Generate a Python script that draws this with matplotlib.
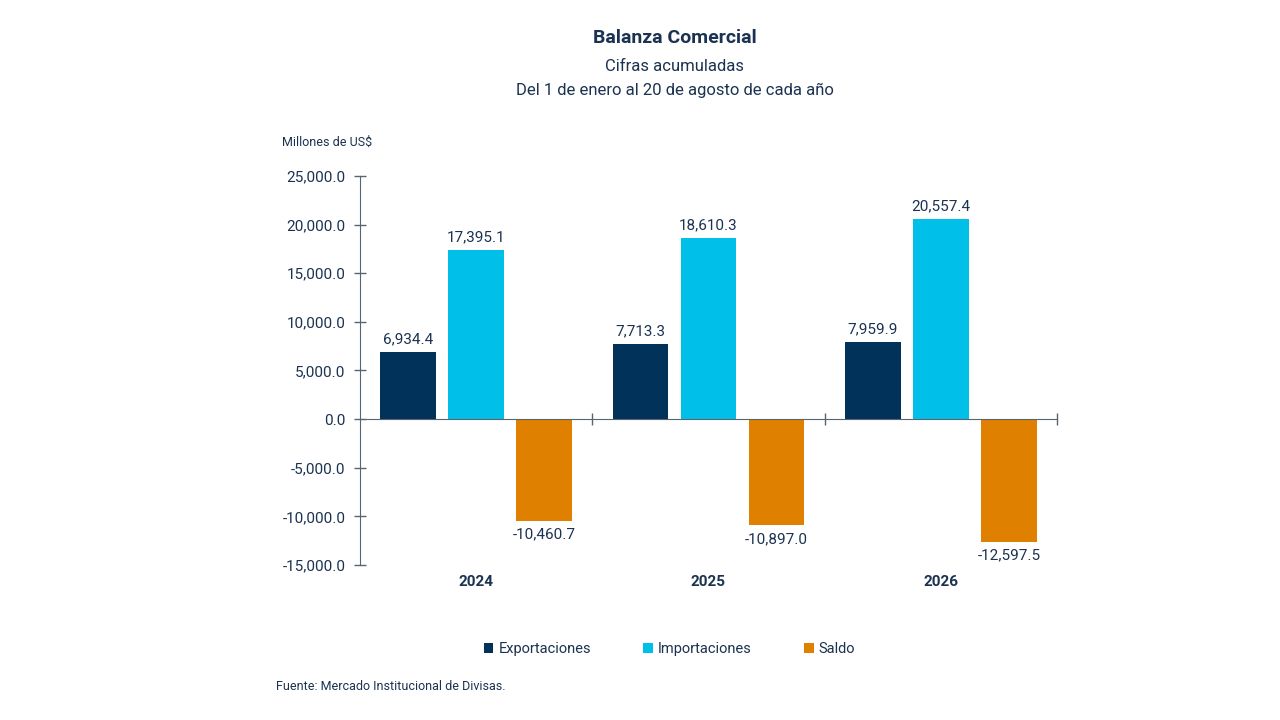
import numpy as np
import matplotlib.pyplot as plt
from matplotlib.patches import Patch
from matplotlib.transforms import blended_transform_factory

years = ["2024", "2025", "2026"]
series_names = ["Exportaciones", "Importaciones", "Saldo"]
exportaciones = [6934.4, 7713.3, 7959.9]
importaciones = [17395.1, 18610.3, 20557.4]
saldo = [-10460.7, -10897.0, -12597.5]
y_ticks = [25000, 20000, 15000, 10000, 5000, 0, -5000, -10000, -15000]

colors = ["#00325A", "#00BFE8", "#E08000"]
text_color = "#1B3250"
axis_color = "#5A6470"

plt.rcParams["font.family"] = ["Roboto", "DejaVu Sans"]

fig = plt.figure(figsize=(12.8, 7.2), dpi=100)
ax = fig.add_axes([0.28125, 0.2153, 0.5445, 0.5403])

x = np.arange(len(years))
width = 0.24
offsets = [-0.293, 0.0, 0.293]
for vals, off, col in zip([exportaciones, importaciones, saldo], offsets, colors):
    bars = ax.bar(x + off, vals, width, color=col, zorder=2)
    for b, v in zip(bars, vals):
        if v >= 0:
            ax.annotate(f"{v:,.1f}", (b.get_x() + b.get_width() / 2, v),
                        xytext=(0, 4), textcoords="offset points",
                        ha="center", va="bottom", fontsize=11, color=text_color)
        else:
            ax.annotate(f"{v:,.1f}", (b.get_x() + b.get_width() / 2, v),
                        xytext=(0, -5), textcoords="offset points",
                        ha="center", va="top", fontsize=11, color=text_color)

ax.set_xlim(-0.5, 2.5)
ax.set_ylim(-15000, 25000)
ax.set_yticks(y_ticks)
ax.set_yticklabels([f"{t:,.1f}" for t in y_ticks], fontsize=11, color=text_color)
ax.tick_params(axis="y", direction="inout", length=9, width=1, color=axis_color, pad=6)

ax.spines["top"].set_visible(False)
ax.spines["right"].set_visible(False)
ax.spines["left"].set_color(axis_color)
ax.spines["bottom"].set_position(("data", 0))
ax.spines["bottom"].set_color(axis_color)

ax.set_xticks([])
ax.set_xticks([0.5, 1.5, 2.5], minor=True)
ax.tick_params(axis="x", which="minor", direction="inout", length=9, width=1, color=axis_color)

trans = blended_transform_factory(ax.transData, ax.transAxes)
for xi, yr in zip(x, years):
    ax.text(xi, -0.043, yr, transform=trans, ha="center", va="center",
            fontsize=11, fontweight="bold", color=text_color)

fig.text(0.527, 0.947, "Balanza Comercial", ha="center", va="center",
         fontsize=14, fontweight="bold", color=text_color)
fig.text(0.527, 0.907, "Cifras acumuladas", ha="center", va="center",
         fontsize=12, color=text_color)
fig.text(0.527, 0.874, "Del 1 de enero al 20 de agosto de cada año", ha="center", va="center",
         fontsize=12, color=text_color)
fig.text(0.2203, 0.803, "Millones de US$", ha="left", va="center",
         fontsize=9, color=text_color)
fig.text(0.2156, 0.047, "Fuente: Mercado Institucional de Divisas.", ha="left", va="center",
         fontsize=9, color=text_color)

handles = [Patch(facecolor=c, edgecolor="none") for c in colors]
leg = fig.legend(handles, series_names, loc="center", bbox_to_anchor=(0.523, 0.0986),
                 ncol=3, frameon=False, fontsize=10.5, handlelength=0.65, handleheight=0.65,
                 handletextpad=0.35, columnspacing=3.6)
for t in leg.get_texts():
    t.set_color(text_color)

fig.savefig("out.png", dpi=100, facecolor="white")
